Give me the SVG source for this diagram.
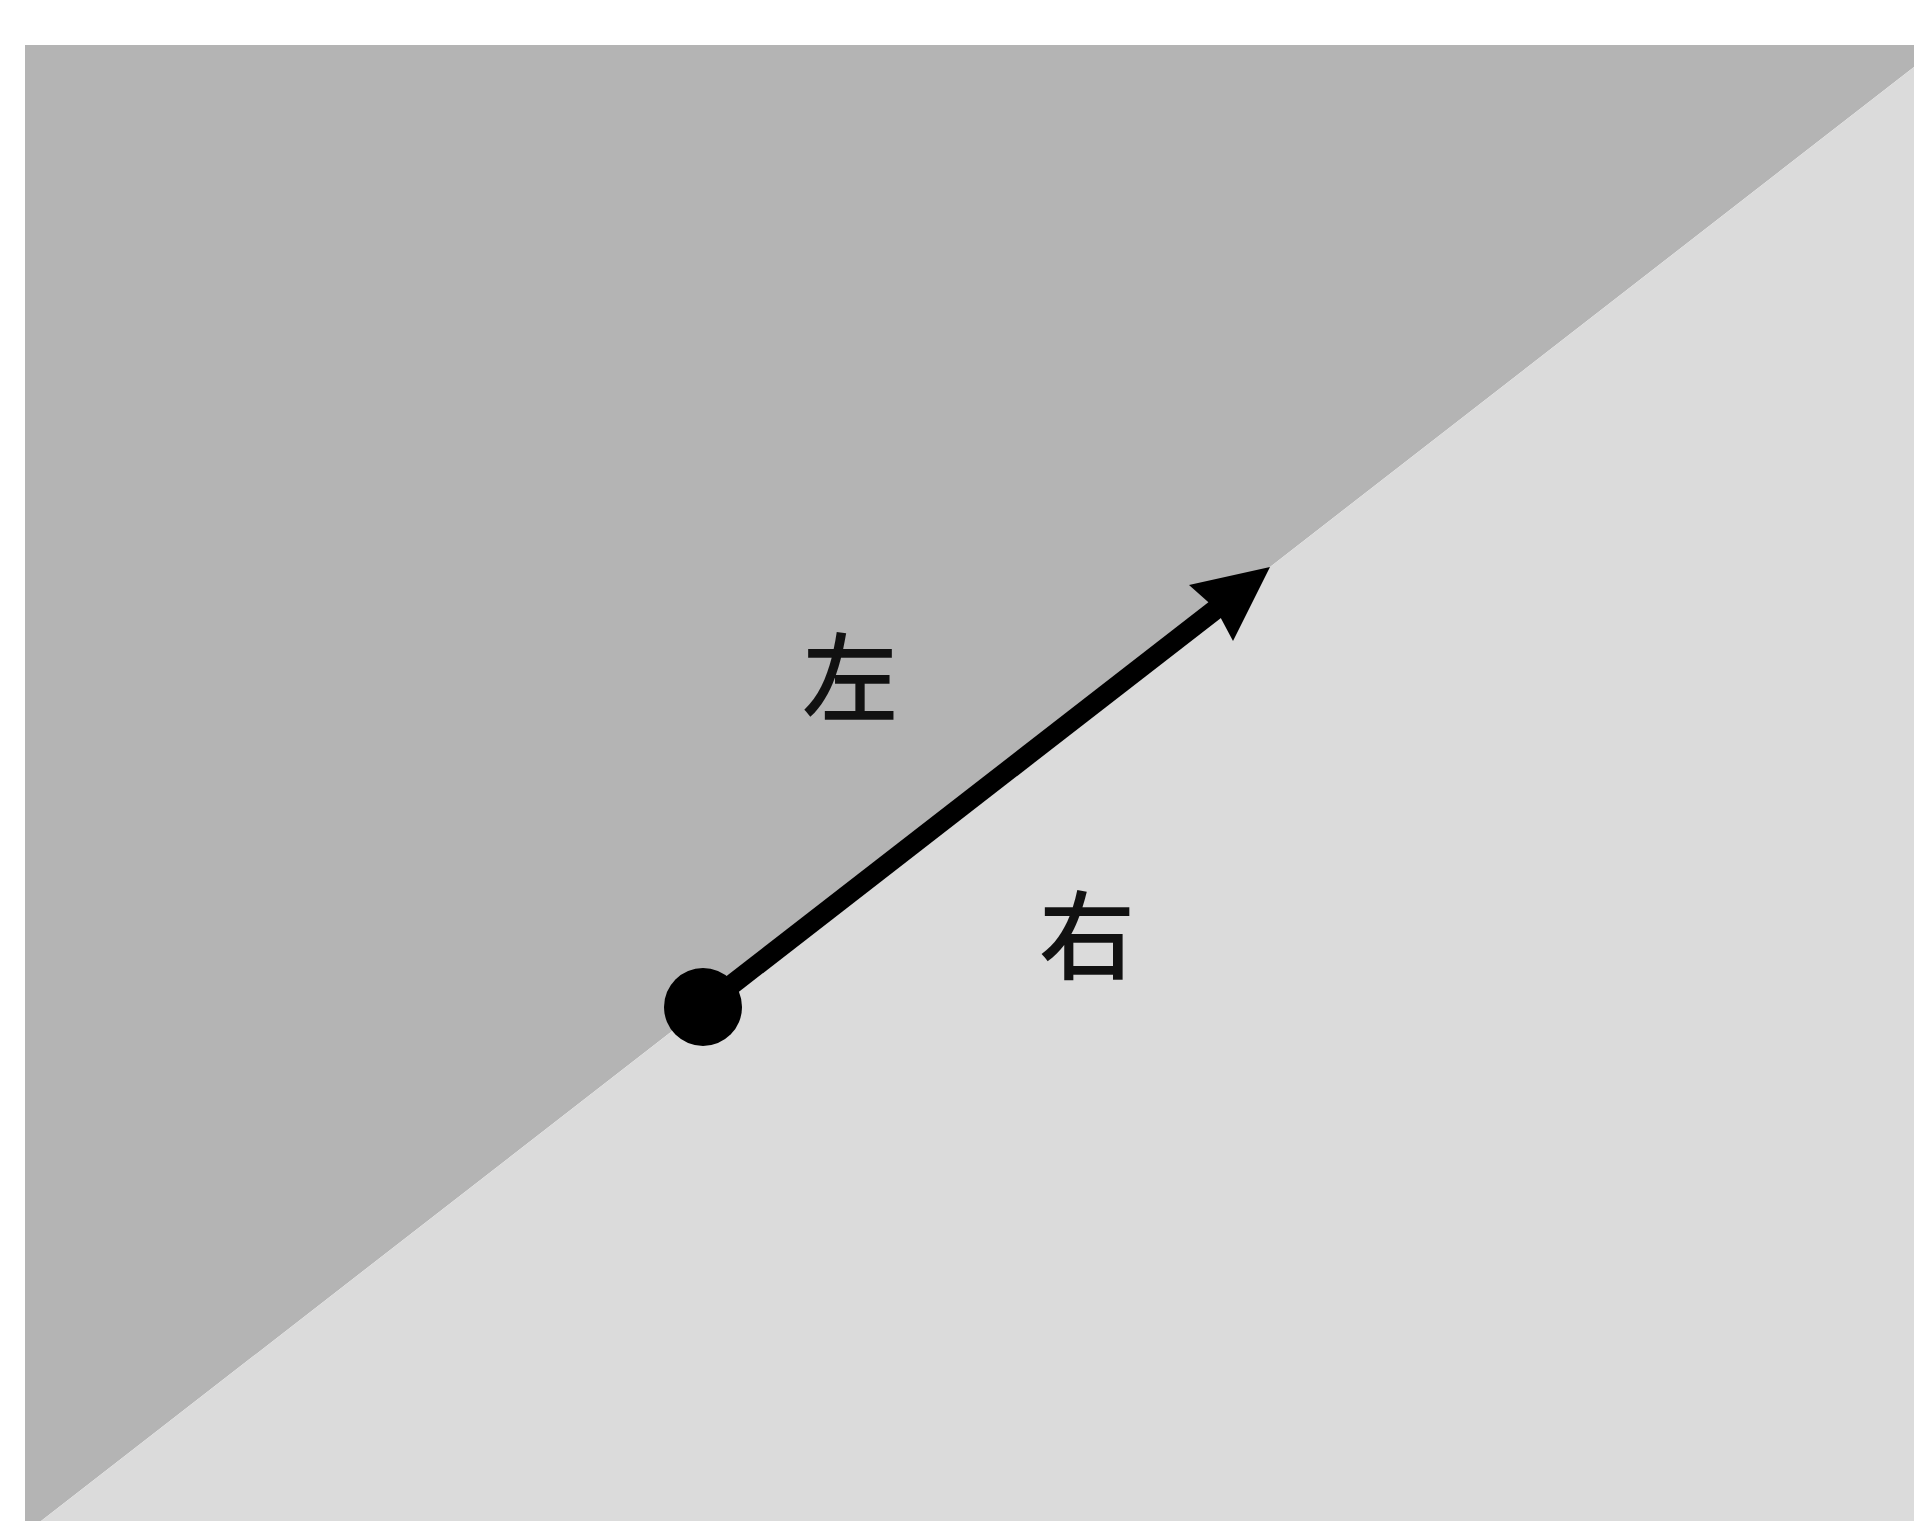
<svg xmlns="http://www.w3.org/2000/svg" width="1914" height="1521" viewBox="0 0 1914 1521">
<style>
.lbl{font-family:"Noto Sans CJK SC","Noto Sans CJK JP",sans-serif;font-size:96px;font-weight:500;fill:#111;text-anchor:middle}
</style>
<rect width="1914" height="1521" fill="#fff"/>
<g id="regions">
<polygon id="left-region" points="25,45 1914,45 1914,67 41,1521 25,1521" fill="#b4b4b4"/>
<polygon id="right-region" points="1914,67 1914,1521 41,1521" fill="#dbdbdb"/>
</g>
<g id="connectors">
<line x1="703" y1="1007" x2="1220" y2="606" stroke="#000" stroke-width="20"/>
<polygon points="1270,567 1233,641 1216,609 1189,585" fill="#000"/>
</g>
<g id="start-point"><circle cx="703" cy="1007" r="39" fill="#000"/></g>
<g id="label-left"><text class="lbl" x="850" y="713">左</text></g>
<g id="label-right"><text class="lbl" x="1087" y="971">右</text></g>
</svg>
